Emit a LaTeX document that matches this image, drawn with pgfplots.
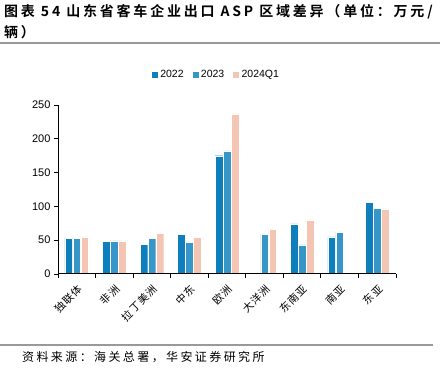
\documentclass[border=0pt]{standalone}
\usepackage{pgfplots}
\pgfplotsset{compat=1.18}
\usepackage{fontspec}
\setmainfont{Liberation Sans}
\newfontfamily\cjk{Noto Sans CJK SC}
\newfontfamily\cjkb{Noto Sans CJK SC Bold}
\definecolor{cA}{HTML}{0E7FBD}
\definecolor{cB}{HTML}{3796C8}
\definecolor{cC}{HTML}{F4C5B2}
\begin{document}
\begin{tikzpicture}
\useasboundingbox (0,0) rectangle (440pt,375pt);
% title
\node[anchor=west,inner sep=0] at (4pt,363pt) {\fontsize{14}{16}\cjkb\addfontfeature{LetterSpace=20}图表 54 山东省客车企业出口 ASP 区域差异（单位：万元/};
\node[anchor=west,inner sep=0] at (4pt,343pt) {\fontsize{14}{16}\cjkb\addfontfeature{LetterSpace=20}辆）};
\draw[gray!80,line width=1.8pt] (0pt,332pt) -- (440pt,332pt);
\draw[gray!80,line width=1.8pt] (0pt,30pt) -- (433pt,30pt);
\node[anchor=west,inner sep=0] at (22pt,18pt) {\fontsize{12}{14}\cjk\addfontfeature{LetterSpace=20}资料来源：海关总署，华安证券研究所};
\begin{axis}[
  at={(58pt,101pt)}, anchor=south west,
  scale only axis, width=338pt, height=169pt,
  xmin=-0.5, xmax=8.5, ymin=0, ymax=250,
  ytick={0,50,100,150,200,250},
  xtick={0,...,8},
  xticklabels={独联体,非洲,拉丁美洲,中东,欧洲,大洋洲,东南亚,南亚,东亚},
  x tick label style={font=\fontsize{10.5}{12}\cjk\addfontfeature{LetterSpace=10}, rotate=45, anchor=north east, inner sep=1pt, yshift=-3pt, xshift=-3pt},
  y tick label style={font=\fontsize{11}{12}\selectfont},
  /pgf/number format/assume math mode=true,
  minor xtick={-0.5,0.5,...,8.5},
  major x tick style={draw=none},
  minor x tick style={draw=black, line width=0.8pt},
  major y tick style={draw=black, line width=0.8pt},
  tick align=outside,
  major tick length=4pt, minor tick length=4pt,
  axis x line*=bottom, axis y line*=left,
  axis line style={black, line width=1pt},
  axis on top,
  ybar, bar width=7.6pt,
  legend style={at={(0.4675,1.178)}, anchor=center, draw=none, legend columns=-1,
    font=\fontsize{10.5}{12}\selectfont, /tikz/every even column/.append style={column sep=6pt},
    inner sep=0pt},
  legend image code/.code={\fill[#1] (0,-3.5pt) rectangle (7pt,3.5pt);},
  clip=false,
]
\addplot[fill=cA, draw=white, line width=0.3pt, bar shift=-8pt] coordinates {(0,52.8) (1,48) (2,44) (3,59) (4,175) (6,74) (7,55) (8,106.5)};
\addplot[fill=cB, draw=white, line width=0.3pt, bar shift=0pt] coordinates {(0,53) (1,49) (2,53) (3,47) (4,182) (5,59) (6,43) (7,62) (8,97)};
\addplot[fill=cC, draw=white, line width=0.3pt, bar shift=8pt] coordinates {(0,55) (1,49) (2,60) (3,54) (4,237) (5,66) (6,80) (8,96)};
\legend{2022,2023,2024Q1}
\end{axis}
\end{tikzpicture}
\end{document}
